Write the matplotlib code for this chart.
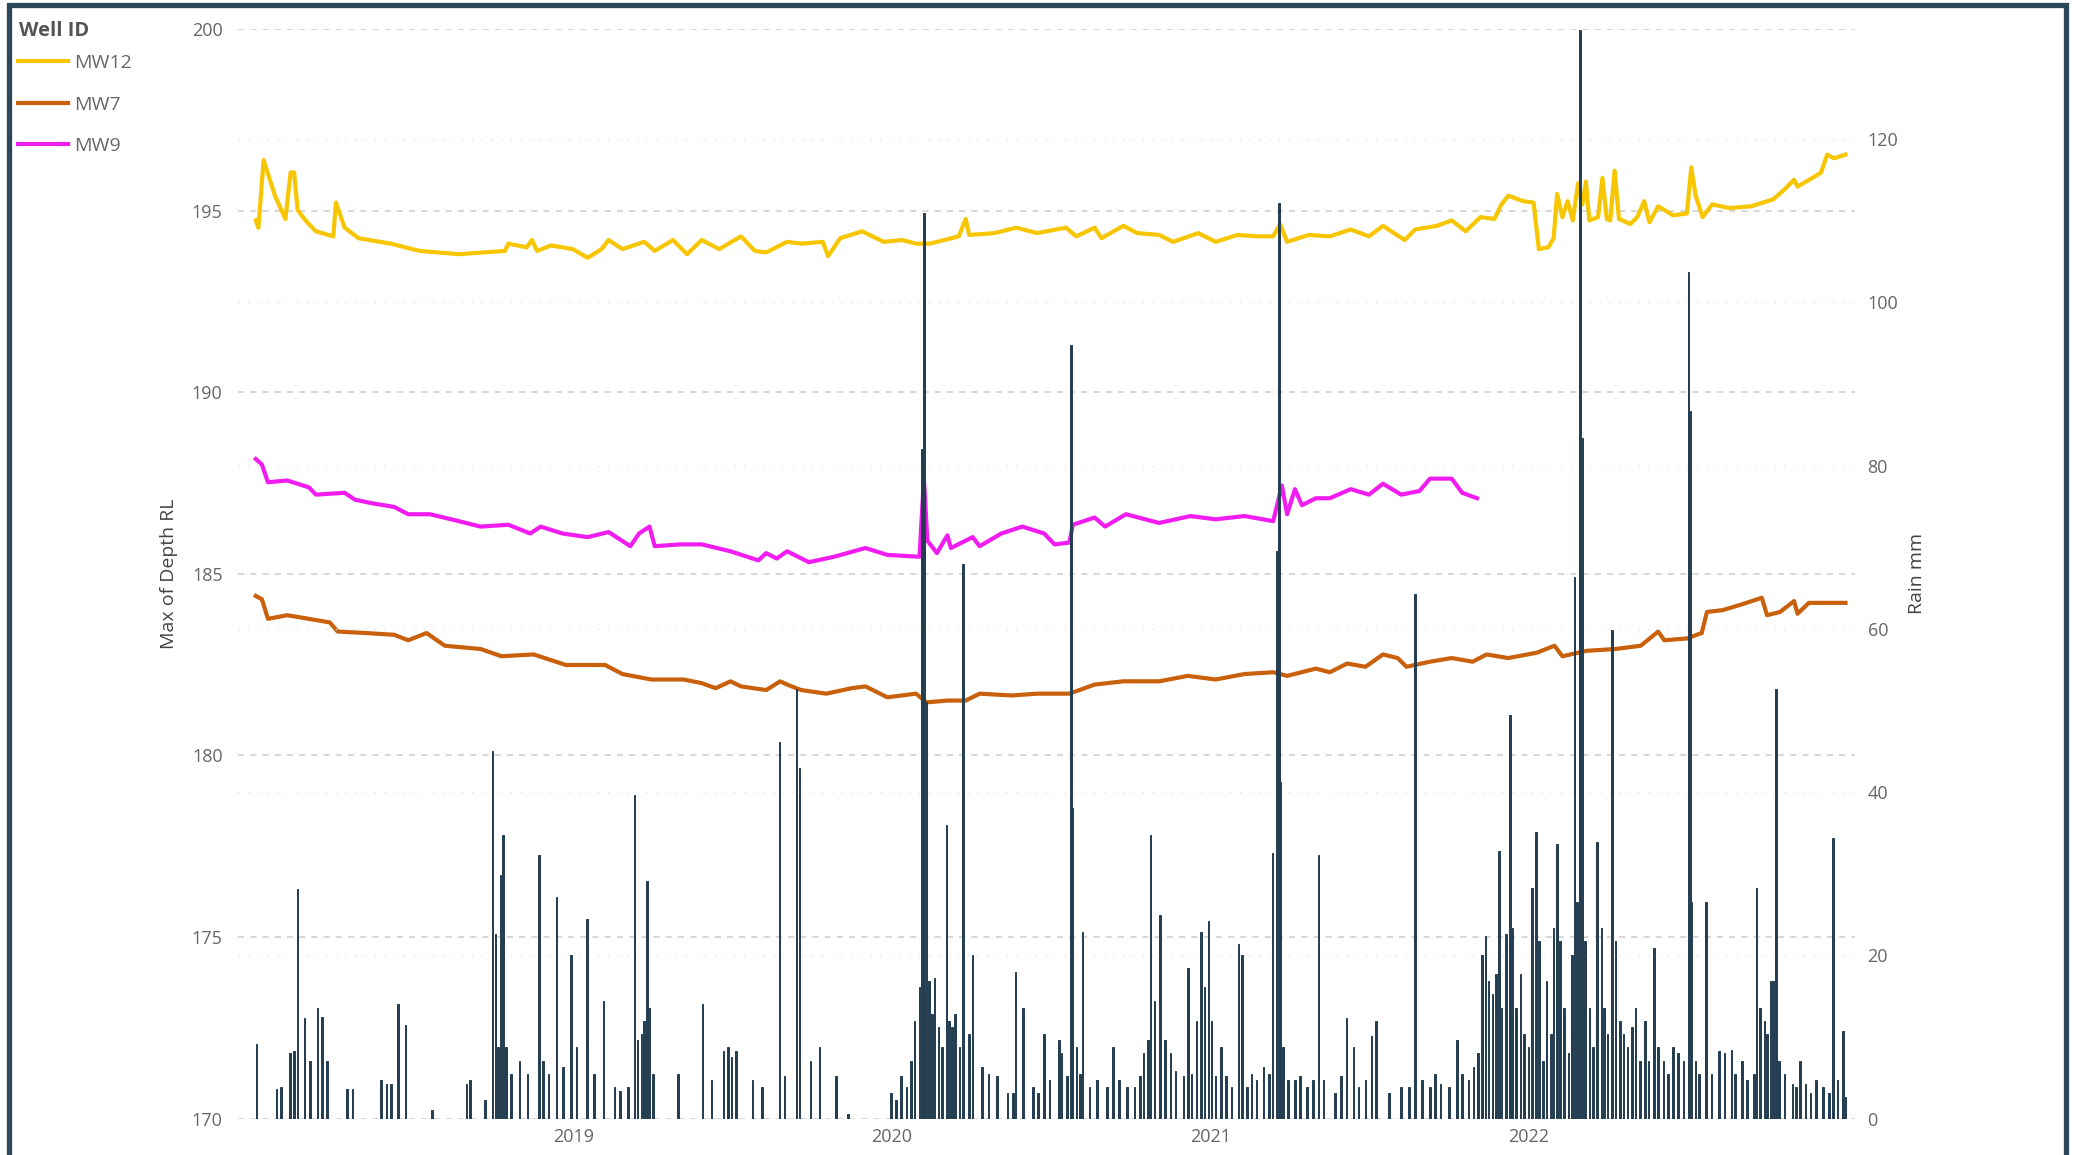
import pandas as pd
import matplotlib.pyplot as plt
from matplotlib.patches import Rectangle

plt.rcParams['font.family'] = ['Open Sans', 'DejaVu Sans']

START = pd.Timestamp('2018-01-01')

# Max of depth RL per well, as (days since START, level)
mw12_day = [0, 3, 9, 22, 34, 40, 44, 48, 57, 69,
            89, 92, 102, 118, 155, 188, 233, 286, 290, 311,
            317, 323, 339, 364, 381, 397, 405, 421, 446, 458,
            479, 495, 512, 532, 557, 573, 586, 610, 626, 651,
            657, 671, 696, 721, 742, 758, 774, 807, 815, 819,
            848, 873, 897, 930, 942, 963, 971, 996, 1012, 1037,
            1053, 1082, 1102, 1127, 1151, 1168, 1176, 1184, 1209, 1233,
            1257, 1278, 1294, 1319, 1331, 1356, 1373, 1389, 1406, 1422,
            1430, 1438, 1455, 1467, 1473, 1484, 1490, 1494, 1500, 1506,
            1512, 1518, 1523, 1527, 1531, 1541, 1546, 1551, 1555, 1560,
            1565, 1578, 1586, 1594, 1600, 1610, 1627, 1643, 1648, 1653,
            1661, 1672, 1692, 1717, 1742, 1754, 1766, 1770, 1787, 1797,
            1804, 1812, 1825]
mw12_rl = [194.73, 194.53, 196.39, 195.41, 194.77, 196.05, 196.05, 195.02, 194.73, 194.43,
           194.29, 195.22, 194.53, 194.24, 194.09, 193.89, 193.80, 193.89, 194.09, 193.99,
           194.19, 193.89, 194.04, 193.94, 193.70, 193.94, 194.19, 193.94, 194.14, 193.89,
           194.19, 193.80, 194.19, 193.94, 194.29, 193.89, 193.85, 194.14, 194.09, 194.14,
           193.75, 194.24, 194.43, 194.14, 194.19, 194.09, 194.09, 194.29, 194.77, 194.33,
           194.38, 194.53, 194.38, 194.53, 194.29, 194.53, 194.24, 194.58, 194.38, 194.33,
           194.14, 194.38, 194.14, 194.33, 194.29, 194.29, 194.63, 194.14, 194.33, 194.29,
           194.48, 194.29, 194.58, 194.19, 194.48, 194.58, 194.73, 194.43, 194.82, 194.77,
           195.17, 195.41, 195.26, 195.22, 193.94, 193.99, 194.24, 195.46, 194.82, 195.26,
           194.73, 195.75, 195.17, 195.80, 194.73, 194.82, 195.90, 194.77, 194.73, 196.10,
           194.77, 194.63, 194.82, 195.26, 194.68, 195.12, 194.87, 194.92, 196.19, 195.41,
           194.82, 195.17, 195.07, 195.12, 195.31, 195.56, 195.85, 195.66, 195.90, 196.05,
           196.54, 196.44, 196.54]

mw7_day = [0, 7, 14, 36, 61, 85, 94, 126, 159, 175,
           196, 217, 258, 282, 319, 356, 401, 421, 454, 491,
           512, 528, 545, 557, 586, 602, 610, 626, 655, 684,
           700, 725, 758, 770, 794, 815, 831, 868, 897, 934,
           963, 996, 1037, 1070, 1102, 1135, 1168, 1184, 1217, 1233,
           1253, 1274, 1294, 1311, 1321, 1348, 1373, 1397, 1413, 1438,
           1471, 1491, 1500, 1528, 1561, 1590, 1610, 1617, 1643, 1660,
           1666, 1684, 1705, 1729, 1735, 1750, 1766, 1770, 1783, 1807,
           1825]
mw7_rl = [184.39, 184.30, 183.76, 183.86, 183.76, 183.66, 183.41, 183.37, 183.32, 183.17,
          183.37, 183.02, 182.93, 182.73, 182.78, 182.49, 182.49, 182.24, 182.09, 182.09,
          181.99, 181.85, 182.04, 181.90, 181.80, 182.04, 181.95, 181.80, 181.70, 181.85,
          181.90, 181.60, 181.70, 181.46, 181.51, 181.51, 181.70, 181.65, 181.70, 181.70,
          181.95, 182.04, 182.04, 182.19, 182.09, 182.24, 182.29, 182.19, 182.39, 182.29,
          182.53, 182.44, 182.78, 182.68, 182.44, 182.58, 182.68, 182.58, 182.78, 182.68,
          182.83, 183.02, 182.73, 182.88, 182.93, 183.02, 183.41, 183.17, 183.22, 183.37,
          183.95, 184.00, 184.15, 184.34, 183.86, 183.95, 184.25, 183.90, 184.20, 184.20,
          184.20]

mw9_day = [0, 7, 14, 36, 61, 69, 102, 114, 134, 159,
           175, 200, 233, 258, 290, 315, 327, 352, 381, 405,
           430, 440, 452, 458, 487, 512, 545, 577, 586, 598,
           610, 635, 664, 700, 725, 762, 767, 771, 782, 794,
           798, 823, 831, 856, 880, 905, 917, 934, 938, 963,
           975, 999, 1037, 1073, 1102, 1135, 1168, 1178, 1184, 1193,
           1201, 1217, 1233, 1257, 1278, 1294, 1315, 1336, 1348, 1373,
           1385, 1402]
mw9_rl = [188.16, 188.01, 187.52, 187.57, 187.38, 187.18, 187.23, 187.04, 186.94, 186.84,
          186.64, 186.64, 186.45, 186.30, 186.35, 186.11, 186.30, 186.11, 186.01, 186.15,
          185.76, 186.11, 186.30, 185.76, 185.81, 185.81, 185.62, 185.37, 185.57, 185.42,
          185.62, 185.32, 185.47, 185.71, 185.52, 185.47, 187.62, 185.91, 185.57, 186.06,
          185.71, 186.01, 185.76, 186.11, 186.30, 186.11, 185.81, 185.86, 186.35, 186.55,
          186.30, 186.64, 186.40, 186.59, 186.50, 186.59, 186.45, 187.43, 186.64, 187.33,
          186.89, 187.08, 187.08, 187.33, 187.18, 187.48, 187.18, 187.28, 187.62, 187.62,
          187.23, 187.08]

# daily rain (mm), days since START
rain_day = [1, 24, 29, 39, 44, 48, 56, 62, 71, 76, 82, 105, 111, 144, 150, 155, 163, 172,
            202, 242, 246, 263, 272, 275, 278, 281, 284, 287, 293, 303, 312, 325, 330, 336,
            345, 353, 362, 368, 380, 388, 399, 412, 418, 427, 435, 438, 443, 446, 449, 452,
            456, 485, 513, 523, 537, 542, 546, 551, 570, 581, 601, 607, 621, 624, 637, 647,
            666, 680, 729, 735, 741, 747, 752, 756, 762, 765, 767, 770, 773, 776, 779, 784,
            788, 793, 796, 799, 803, 808, 812, 819, 823, 834, 841, 851, 863, 869, 872, 881,
            892, 898, 905, 911, 922, 925, 931, 936, 937, 942, 946, 949, 957, 966, 977, 984,
            991, 1000, 1009, 1015, 1019, 1024, 1027, 1032, 1038, 1044, 1050, 1056, 1065, 1070,
            1074, 1080, 1085, 1089, 1094, 1097, 1102, 1108, 1114, 1120, 1128, 1132, 1138, 1143,
            1149, 1157, 1163, 1167, 1172, 1175, 1176, 1179, 1185, 1193, 1199, 1207, 1214, 1220,
            1226, 1239, 1246, 1252, 1260, 1266, 1274, 1281, 1286, 1301, 1315, 1324, 1331, 1339,
            1348, 1354, 1360, 1370, 1379, 1385, 1392, 1398, 1403, 1408, 1412, 1415, 1420, 1424,
            1427, 1430, 1435, 1440, 1443, 1447, 1452, 1456, 1461, 1465, 1470, 1473, 1478, 1482,
            1487, 1490, 1494, 1497, 1502, 1507, 1511, 1514, 1517, 1520, 1523, 1526, 1531, 1535,
            1540, 1545, 1548, 1552, 1557, 1561, 1566, 1570, 1575, 1580, 1584, 1589, 1595, 1599,
            1605, 1610, 1616, 1621, 1627, 1633, 1639, 1645, 1647, 1648, 1653, 1657, 1665, 1671,
            1680, 1686, 1694, 1698, 1706, 1712, 1720, 1723, 1727, 1732, 1735, 1739, 1742, 1745,
            1749, 1755, 1764, 1768, 1773, 1779, 1785, 1791, 1799, 1806, 1811, 1816, 1822, 1825]
rain_mm = [9.1, 3.6, 3.9, 8.0, 8.3, 28.1, 12.3, 7.1, 13.6, 12.5, 7.1, 3.6, 3.6, 4.7, 4.2, 4.2, 14.0, 11.5,
           1.0, 4.2, 4.7, 2.3, 45.1, 22.6, 8.8, 29.9, 34.7, 8.8, 5.5, 7.1, 5.5, 32.3, 7.1, 5.5,
           27.1, 6.3, 20.1, 8.8, 24.5, 5.5, 14.4, 3.9, 3.4, 3.9, 39.6, 9.6, 10.4, 12.0, 29.1, 13.6,
           5.5, 5.5, 14.0, 4.7, 8.3, 8.8, 7.6, 8.3, 4.7, 3.9, 46.1, 5.2, 52.6, 42.9, 7.1, 8.8,
           5.2, 0.6, 3.1, 2.3, 5.2, 3.9, 7.1, 12.0, 16.1, 82.1, 111.0, 51.0, 16.9, 12.8, 17.2, 11.2,
           8.8, 36.0, 12.0, 11.2, 12.8, 8.8, 68.0, 10.4, 20.1, 6.3, 5.5, 5.2, 3.1, 3.1, 18.0, 13.6,
           3.9, 3.1, 10.4, 4.7, 9.6, 8.0, 5.2, 94.8, 38.0, 8.8, 5.5, 22.9, 3.9, 4.7, 3.9, 8.8,
           4.7, 3.9, 3.9, 5.2, 8.0, 9.6, 34.7, 14.4, 25.0, 9.6, 8.0, 5.8, 5.2, 18.5,
           5.5, 12.0, 22.9, 16.1, 24.2, 12.0, 5.2, 8.8, 5.2, 3.9, 21.4, 20.1, 3.9, 5.5,
           4.7, 6.3, 5.5, 32.6, 69.6, 112.2, 41.2, 8.8, 4.7, 4.7, 5.2, 3.9, 4.7, 32.3,
           4.7, 3.1, 5.2, 12.3, 8.8, 3.9, 4.7, 10.1, 12.0, 3.1, 3.9, 3.9, 64.3, 4.7,
           3.9, 5.5, 4.2, 3.9, 9.6, 5.5, 4.7, 6.3, 8.0, 20.1, 22.4, 16.9, 15.3, 17.7,
           32.8, 13.6, 22.6, 49.4, 23.4, 13.6, 17.7, 10.4, 8.8, 28.2, 35.1, 21.8, 7.1, 16.9,
           10.4, 23.4, 33.6, 21.8, 13.6, 8.0, 20.1, 66.4, 26.6, 133.4, 83.4, 21.8, 13.6, 8.8,
           33.9, 23.4, 13.6, 10.4, 59.9, 21.8, 12.0, 10.4, 8.8, 11.2, 13.6, 7.1, 12.0, 7.1,
           20.9, 8.8, 7.1, 5.5, 8.8, 8.0, 7.1, 103.7, 86.7, 26.6, 7.1, 5.5, 26.6, 5.5,
           8.3, 8.0, 8.4, 5.5, 7.1, 4.7, 5.5, 28.2, 13.6, 12.0, 10.4, 16.9, 16.9, 52.6,
           7.1, 5.5, 4.2, 3.9, 7.1, 4.2, 3.1, 4.7, 3.9, 3.1, 34.4, 4.7, 10.7, 2.6]

wells = [('MW12', mw12_day, mw12_rl, '#f7c600'),
         ('MW7', mw7_day, mw7_rl, '#c8600c'),
         ('MW9', mw9_day, mw9_rl, '#f01cf0')]


def to_dates(days):
    return START + pd.to_timedelta(days, unit='D')


fig = plt.figure(figsize=(20.78, 11.55), dpi=100)
ax = fig.add_axes([0.1145, 0.0315, 0.7782, 0.9434])
ax2 = ax.twinx()

handles = []
for name, days, rl, color in wells:
    line, = ax.plot(to_dates(days), rl, color=color, lw=3.0, label=name,
                    solid_joinstyle='round', zorder=3)
    handles.append(line)

# rain columns, edged so every day stays a solid dark stroke
ax2.bar(to_dates(rain_day), rain_mm, width=1.8, color='#243e51',
        edgecolor='#243e51', linewidth=0.7, zorder=3)

ax.set_ylim(170, 200)
ax.set_yticks(range(170, 201, 5))
ax2.set_ylim(0, 133.5)
ax2.set_yticks(range(0, 121, 20))
ax.set_xlim(START - pd.Timedelta(days=20.5), START + pd.Timedelta(days=1836))
ax.set_xticks(pd.to_datetime(['2019-01-01', '2020-01-01', '2021-01-01', '2022-01-01']))
ax.set_xticklabels(['2019', '2020', '2021', '2022'])

ax.yaxis.grid(True, linestyle=(0, (4, 4)), color='#cccccc', lw=1.1)
ax2.yaxis.grid(True, linestyle=(0, (1, 6)), color='#e4e4e4', lw=1.0)
ax.set_axisbelow(True)

for a in (ax, ax2):
    for s in a.spines.values():
        s.set_visible(False)
    a.patch.set_visible(False)
ax.tick_params(axis='y', length=0, labelsize=13, labelcolor='#666666', pad=11)
ax.tick_params(axis='x', length=0, labelsize=13, labelcolor='#666666', pad=7)
ax2.tick_params(axis='y', length=0, labelsize=13, labelcolor='#666666', pad=9)

ax.set_ylabel('Max of Depth RL', fontsize=14, color='#444444')
ax.yaxis.set_label_coords(-0.037, 0.5)
ax2.set_ylabel('Rain mm', fontsize=14, color='#444444')
ax2.yaxis.set_label_coords(1.0328, 0.5)

# legend header and entries
fig.text(0.0091, 0.9732, 'Well ID', fontsize=14.5, fontweight='bold',
         color='#555555', ha='left', va='center')
leg = ax.legend(handles=handles, loc='upper left',
                bbox_to_anchor=(0.0085, 0.953), bbox_transform=fig.transFigure,
                frameon=False, fontsize=14,
                handlelength=2.6, handletextpad=0.3, labelspacing=1.2,
                borderpad=0, borderaxespad=0)
for t in leg.get_texts():
    t.set_color('#666666')

# dark outer frame
fig.add_artist(Rectangle((0.0043, -0.02), 0.9899, 1.0157, transform=fig.transFigure,
                         fill=False, edgecolor='#2d4859', lw=3.8))

fig.savefig('out.png', dpi=100)
